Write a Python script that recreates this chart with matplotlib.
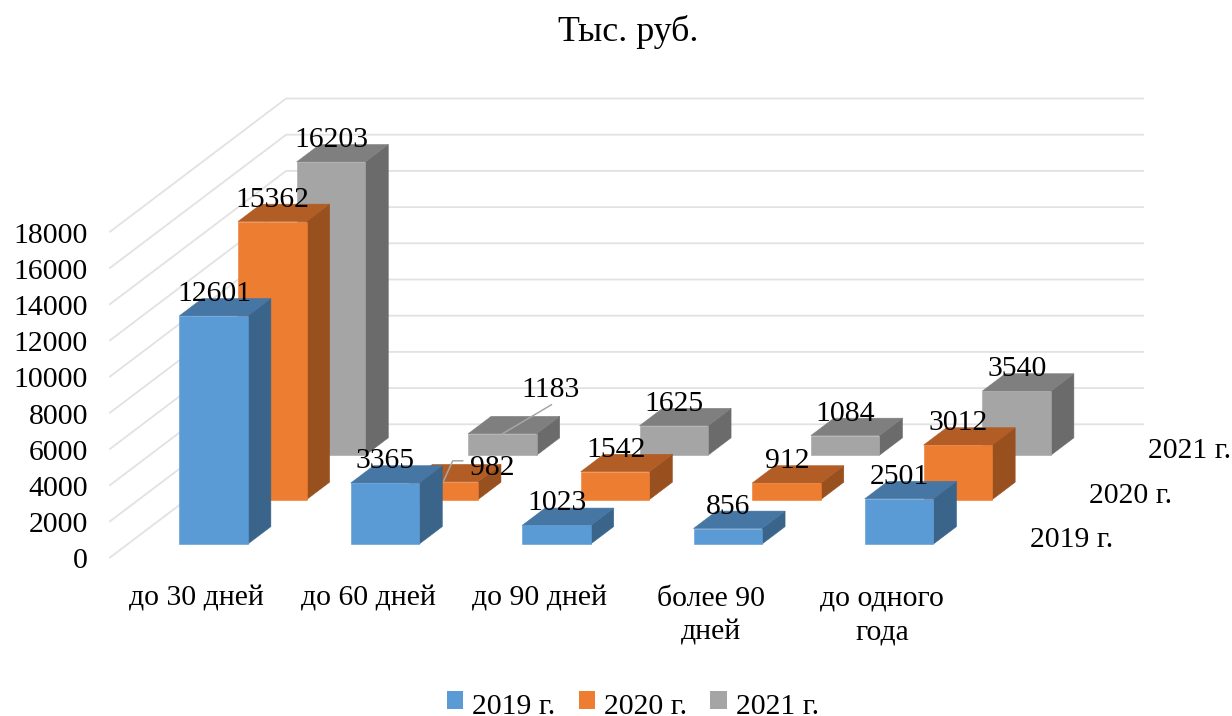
import matplotlib
matplotlib.use("Agg")
import matplotlib.pyplot as plt
from matplotlib.patches import Polygon, Patch, Rectangle
from matplotlib.legend_handler import HandlerPatch

plt.rcParams['font.family'] = ['Liberation Serif', 'DejaVu Serif']

# ---------- data ----------
categories = ['до 30 дней', 'до 60 дней', 'до 90 дней', 'более 90\nдней', 'до одного\nгода']
series_names = ['2019 г.', '2020 г.', '2021 г.']
values_2019 = [12601, 3365, 1023, 856, 2501]
values_2020 = [15362, 982, 1542, 912, 3012]
values_2021 = [16203, 1183, 1625, 1084, 3540]
value_ticks = [0, 2000, 4000, 6000, 8000, 10000, 12000, 14000, 16000, 18000]

# ---------- styles ----------
front_colors = ['#5B9BD5', '#ED7D31', '#A5A5A5']
top_colors = ['#4676A3', '#B25D25', '#7F7F7F']
side_colors = ['#3A6489', '#98501F', '#6B6B6B']
GRID = '#E2E2E2'
FS = 21.4

# ---------- oblique 3-D projection onto pixel coordinates ----------
X0, Y0 = 179.3, 544.0      # front-lower-left corner of first bar, first series
CAT_DX = 171.4             # px per category
SER_DX, SER_DY = 58.7, 44.4  # px per series step
V_SCALE = 0.0181           # px per value unit
BAR_W = 0.40               # category units
BAR_D = 0.392              # series units


def proj(c, s, v):
    return (X0 + CAT_DX * c + SER_DX * s, Y0 - SER_DY * s - V_SCALE * v)


fig = plt.figure(figsize=(12.32, 7.16), dpi=100)
ax = fig.add_axes([0, 0, 1, 1])
ax.set_xlim(0, 1232)
ax.set_ylim(716, 0)
ax.axis('off')

# floor limits in (category, series) units
c_min, c_max = -0.3, 4.7
s_min, s_max = -0.304, 2.696

for v in value_ticks:
    p0 = proj(c_min, s_min, v)
    p1 = proj(c_min, s_max, v)
    p2 = proj(c_max, s_max, v)
    ax.plot([p0[0], p1[0], p2[0]], [p0[1], p1[1], p2[1]], color=GRID, lw=1.3, zorder=1)
    ax.text(88, p0[1] + 4, str(v), ha='right', va='center', fontsize=FS, color='black')

all_values = [values_2019, values_2020, values_2021]


def face(points, color, z):
    ax.add_patch(Polygon(points, closed=True, fc=color, ec=color, lw=0.4, zorder=z))


z = 2
for s in [2, 1, 0]:
    for c in range(len(categories)):
        v = all_values[s][c]
        c0, c1 = c, c + BAR_W
        s0, s1 = s, s + BAR_D
        face([proj(c1, s0, 0), proj(c1, s1, 0), proj(c1, s1, v), proj(c1, s0, v)], side_colors[s], z)
        face([proj(c0, s0, v), proj(c1, s0, v), proj(c1, s1, v), proj(c0, s1, v)], top_colors[s], z)
        face([proj(c0, s0, 0), proj(c1, s0, 0), proj(c1, s0, v), proj(c0, s0, v)], front_colors[s], z)
    z += 1

# data labels (above the front top edge, two with leader lines)
leader = {(1, 1): (49, -14), (2, 1): (48, -44)}
for s in range(3):
    for c in range(len(categories)):
        v = all_values[s][c]
        x, y = proj(c + BAR_W / 2, s, v)
        if (s, c) in leader:
            dx, dy = leader[(s, c)]
            if s == 1:
                ax.plot([x, x + 9, x + 19], [y - 1, y - 21, y - 21], color='#A6A6A6', lw=1.1, zorder=8)
            else:
                ax.plot([x, x + 49], [y, y - 29], color='#A6A6A6', lw=1.1, zorder=8)
            ax.text(x + dx, y + dy, str(v), ha='center', va='center', fontsize=FS, color='black', zorder=9)
        else:
            ax.text(x + 0.5, y - 22, str(v), ha='center', va='center', fontsize=FS, color='black', zorder=9)

# category labels
for c, label in enumerate(categories):
    x, _ = proj(c + BAR_W / 2, 0, 0)
    ax.text(x - 17, 585.5, label, ha='center', va='top', fontsize=FS, color='black', linespacing=1.42)

# depth-axis labels
for s, name in enumerate(series_names):
    x, y = proj(c_max, s, 0)
    ax.text(x + 45.5, y - 4, name, ha='left', va='center', fontsize=FS, color='black')

ax.text(628, 32, 'Тыс. руб.', ha='center', va='center', fontsize=25.8, color='black')


def raised_square(legend, orig_handle, xdescent, ydescent, width, height, fontsize):
    return Rectangle((-xdescent, -ydescent + 2.6), width, height)


handles = [Patch(fc=col, ec='none', label=n) for col, n in zip(front_colors, series_names)]
fig.legend(handles=handles, loc='lower center', bbox_to_anchor=(0.5135, -0.006), ncols=3, frameon=False,
           fontsize=FS, handlelength=0.55, handleheight=0.55, handletextpad=0.3, columnspacing=0.786,
           borderpad=0, borderaxespad=0,
           handler_map={Patch: HandlerPatch(patch_func=raised_square)})

fig.savefig('out.png', dpi=100)
